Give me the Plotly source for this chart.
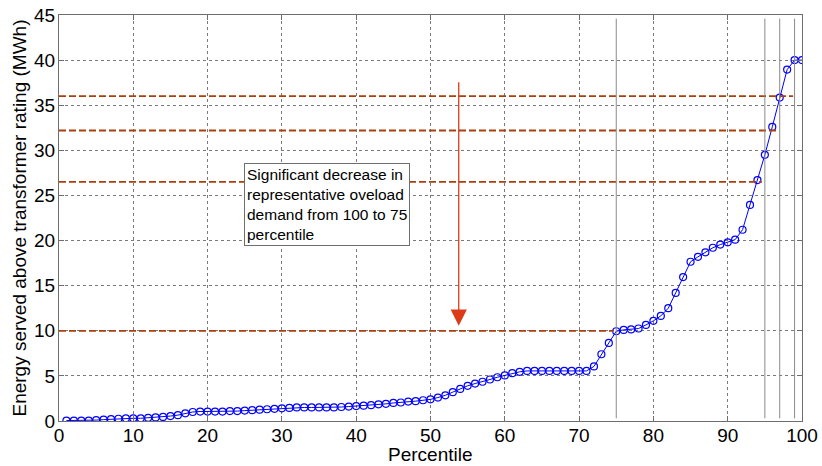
import plotly.graph_objects as go

# Percentile ranks 1..100 and energy served above transformer rating (MWh)
percentile = list(range(1, 101))
energy_mwh = [
    0.05, 0.05, 0.05, 0.05, 0.1, 0.15, 0.2, 0.25, 0.3, 0.3,
    0.3, 0.35, 0.4, 0.45, 0.55, 0.65, 0.85, 1.0, 1.05, 1.05,
    1.05, 1.05, 1.1, 1.1, 1.15, 1.2, 1.25, 1.3, 1.35, 1.4,
    1.45, 1.5, 1.5, 1.5, 1.5, 1.5, 1.5, 1.55, 1.6, 1.65,
    1.7, 1.75, 1.85, 1.9, 2.0, 2.05, 2.15, 2.2, 2.3, 2.4,
    2.6, 2.85, 3.2, 3.55, 3.9, 4.15, 4.35, 4.6, 4.85, 5.05,
    5.3, 5.45, 5.55, 5.55, 5.55, 5.55, 5.55, 5.55, 5.55, 5.55,
    5.55, 6.05, 7.4, 8.65, 9.95, 10.1, 10.15, 10.25, 10.65, 11.1,
    11.65, 12.5, 14.2, 15.95, 17.65, 18.2, 18.7, 19.2, 19.55, 19.8,
    20.1, 21.2, 23.95, 26.7, 29.5, 32.6, 35.85, 38.95, 40.0, 40.0,
]

# Representative overload demand levels and the percentile where each stops
demand_levels = [10.0, 26.5, 32.2, 36.0]
level_end_pct = [74.6, 94.6, 96.5, 98.8]

# Percentile markers drawn as vertical reference lines
marker_pcts = [75, 95, 97, 99]

FONT = "Liberation Sans, Arial, sans-serif"

fig = go.Figure()

fig.add_trace(go.Scatter(
    x=percentile, y=energy_mwh, mode="lines+markers",
    line=dict(color="#0000FF", width=1),
    marker=dict(symbol="circle-open", size=7, color="#0000FF",
                line=dict(width=1.2, color="#0000FF")),
    showlegend=False, hoverinfo="x+y",
))

for lvl, end in zip(demand_levels, level_end_pct):
    fig.add_shape(type="line", xref="x", yref="y",
                  x0=0, x1=end, y0=lvl, y1=lvl,
                  line=dict(color="#A8400F", width=1.8, dash="7px,3px"))

for p in marker_pcts:
    fig.add_shape(type="line", xref="x", yref="y",
                  x0=p, x1=p, y0=0.3, y1=44.6,
                  line=dict(color="#8A8A8A", width=1))

# Downward arrow: the drop from the 100th to the 75th percentile
fig.add_annotation(
    x=53.8, y=10.55, ax=53.8, ay=37.7, xref="x", yref="y", axref="x", ayref="y",
    text="", showarrow=True, arrowhead=2, arrowsize=2.5, arrowwidth=1.3,
    arrowcolor="#DD3A18",
)

fig.add_annotation(
    x=24.9, y=28.6, xref="x", yref="y", xanchor="left", yanchor="top",
    text="Significant decrease in<br>representative oveload<br>demand from 100 to 75<br>percentile",
    showarrow=False, align="left",
    font=dict(family=FONT, size=15.5, color="#000000"),
    bgcolor="#FFFFFF", bordercolor="#6E6E6E", borderwidth=1, borderpad=2,
)

# x-axis title, placed just under the tick labels
fig.add_annotation(
    x=0.5, y=-0.0517, xref="paper", yref="paper", xanchor="center", yanchor="top",
    text="Percentile", showarrow=False,
    font=dict(family=FONT, size=19, color="#000000"),
)

axis_common = dict(
    showgrid=True, gridcolor="#7A7A7A", griddash="dot", gridwidth=1,
    showline=True, linecolor="#6E6E6E", linewidth=1, mirror="allticks",
    ticks="inside", ticklen=5, tickcolor="#6E6E6E",
    tickfont=dict(family=FONT, size=19, color="#000000"),
    zeroline=False, automargin=False,
)

fig.update_xaxes(range=[0, 100], dtick=10, tick0=0, ticklabelstandoff=-3, **axis_common)
fig.update_yaxes(range=[0, 45], dtick=5, tick0=0, ticklabelstandoff=-1,
                 title=dict(text="Energy served above transformer rating (MWh)",
                            font=dict(family=FONT, size=19, color="#000000"), standoff=2),
                 **axis_common)

fig.update_layout(
    width=822, height=466,
    margin=dict(l=59, r=20, t=15, b=45),
    plot_bgcolor="#FFFFFF", paper_bgcolor="#FFFFFF",
    font=dict(family=FONT),
)

fig.write_html("out.html")
